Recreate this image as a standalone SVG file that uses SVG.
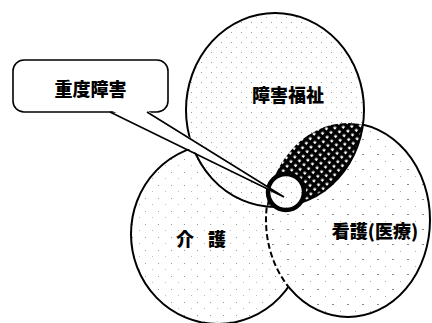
<svg xmlns="http://www.w3.org/2000/svg" width="432" height="323" viewBox="0 0 432 323">
<style>
.outline{fill:none;stroke:#000;stroke-width:2}
.lbl{font-family:"Noto Sans CJK JP","Noto Sans CJK SC",sans-serif;font-weight:900;font-size:18px;fill:#000}
</style>
<defs>
<pattern id="dotsTop" width="10" height="10" patternUnits="userSpaceOnUse">
<rect width="10" height="10" fill="#fff"/>
<rect x="1" y="2" width="1" height="1" fill="#999"/>
<rect x="6" y="7" width="1" height="1" fill="#bbb"/>
</pattern>
<pattern id="dotsLeft" width="13" height="13" patternUnits="userSpaceOnUse">
<rect width="13" height="13" fill="#fff"/>
<rect x="2" y="3" width="1" height="1" fill="#999"/>
<rect x="9" y="9" width="1" height="1" fill="#bbb"/>
</pattern>
<pattern id="dotsRight" width="15" height="15" patternUnits="userSpaceOnUse">
<rect width="15" height="15" fill="#fff"/>
<rect x="2" y="4" width="2" height="1" fill="#888"/>
<rect x="10" y="11" width="1" height="1" fill="#aaa"/>
</pattern>
<pattern id="hatch" width="6" height="6" patternUnits="userSpaceOnUse" patternTransform="rotate(40)">
<rect width="6" height="6" fill="#000"/>
<rect x="1.5" y="1.5" width="2.5" height="2.5" fill="#fff"/>
</pattern>
<clipPath id="inLeft"><ellipse cx="218" cy="234" rx="87" ry="90"/></clipPath>
<clipPath id="outLeft"><path clip-rule="evenodd" d="M0 0H432V323H0Z M131 234A87 90 0 1 0 305 234A87 90 0 1 0 131 234Z"/></clipPath>
<clipPath id="inTop"><ellipse cx="275" cy="110" rx="89" ry="97"/></clipPath>
</defs>
<rect width="432" height="323" fill="#fff"/>
<g id="node-kaigo">
<ellipse cx="218" cy="234" rx="87" ry="90" class="outline" style="fill:url(#dotsLeft)"/>
<text class="lbl" x="176 194 208" y="246">介 護</text>
</g>
<g id="node-kango">
<ellipse cx="348" cy="220" rx="82" ry="97" fill="url(#dotsRight)"/>
<ellipse cx="348" cy="220" rx="82" ry="97" class="outline" clip-path="url(#outLeft)"/>
<ellipse cx="348" cy="220" rx="82" ry="97" class="outline" stroke-dasharray="6 3" clip-path="url(#inLeft)"/>
<text class="lbl" x="375" y="238" text-anchor="middle">看護(医療)</text>
</g>
<g id="node-shogai">
<ellipse cx="275" cy="110" rx="89" ry="97" fill="url(#dotsTop)"/>
<ellipse cx="348" cy="220" rx="82" ry="97" fill="url(#hatch)" clip-path="url(#inTop)"/>
<ellipse cx="275" cy="110" rx="89" ry="97" class="outline"/>
<text class="lbl" x="288" y="102" text-anchor="middle">障害福祉</text>
</g>
<g id="node-ring">
<circle cx="286" cy="192" r="18" fill="url(#dotsTop)" stroke="#000" stroke-width="4.5"/>
</g>
<g id="node-callout">
<rect x="13" y="60" width="155" height="52" rx="11" ry="11" fill="#fff" stroke="#000" stroke-width="1.6"/>
<text class="lbl" x="90.5" y="96" text-anchor="middle">重度障害</text>
</g>
<g id="connectors">
<polygon points="110.5,110 146.5,110 284,197" fill="#fff"/>
<polyline points="110,112 284,197 147,112" fill="none" stroke="#000" stroke-width="1.6" stroke-linejoin="miter"/>
</g>
</svg>
